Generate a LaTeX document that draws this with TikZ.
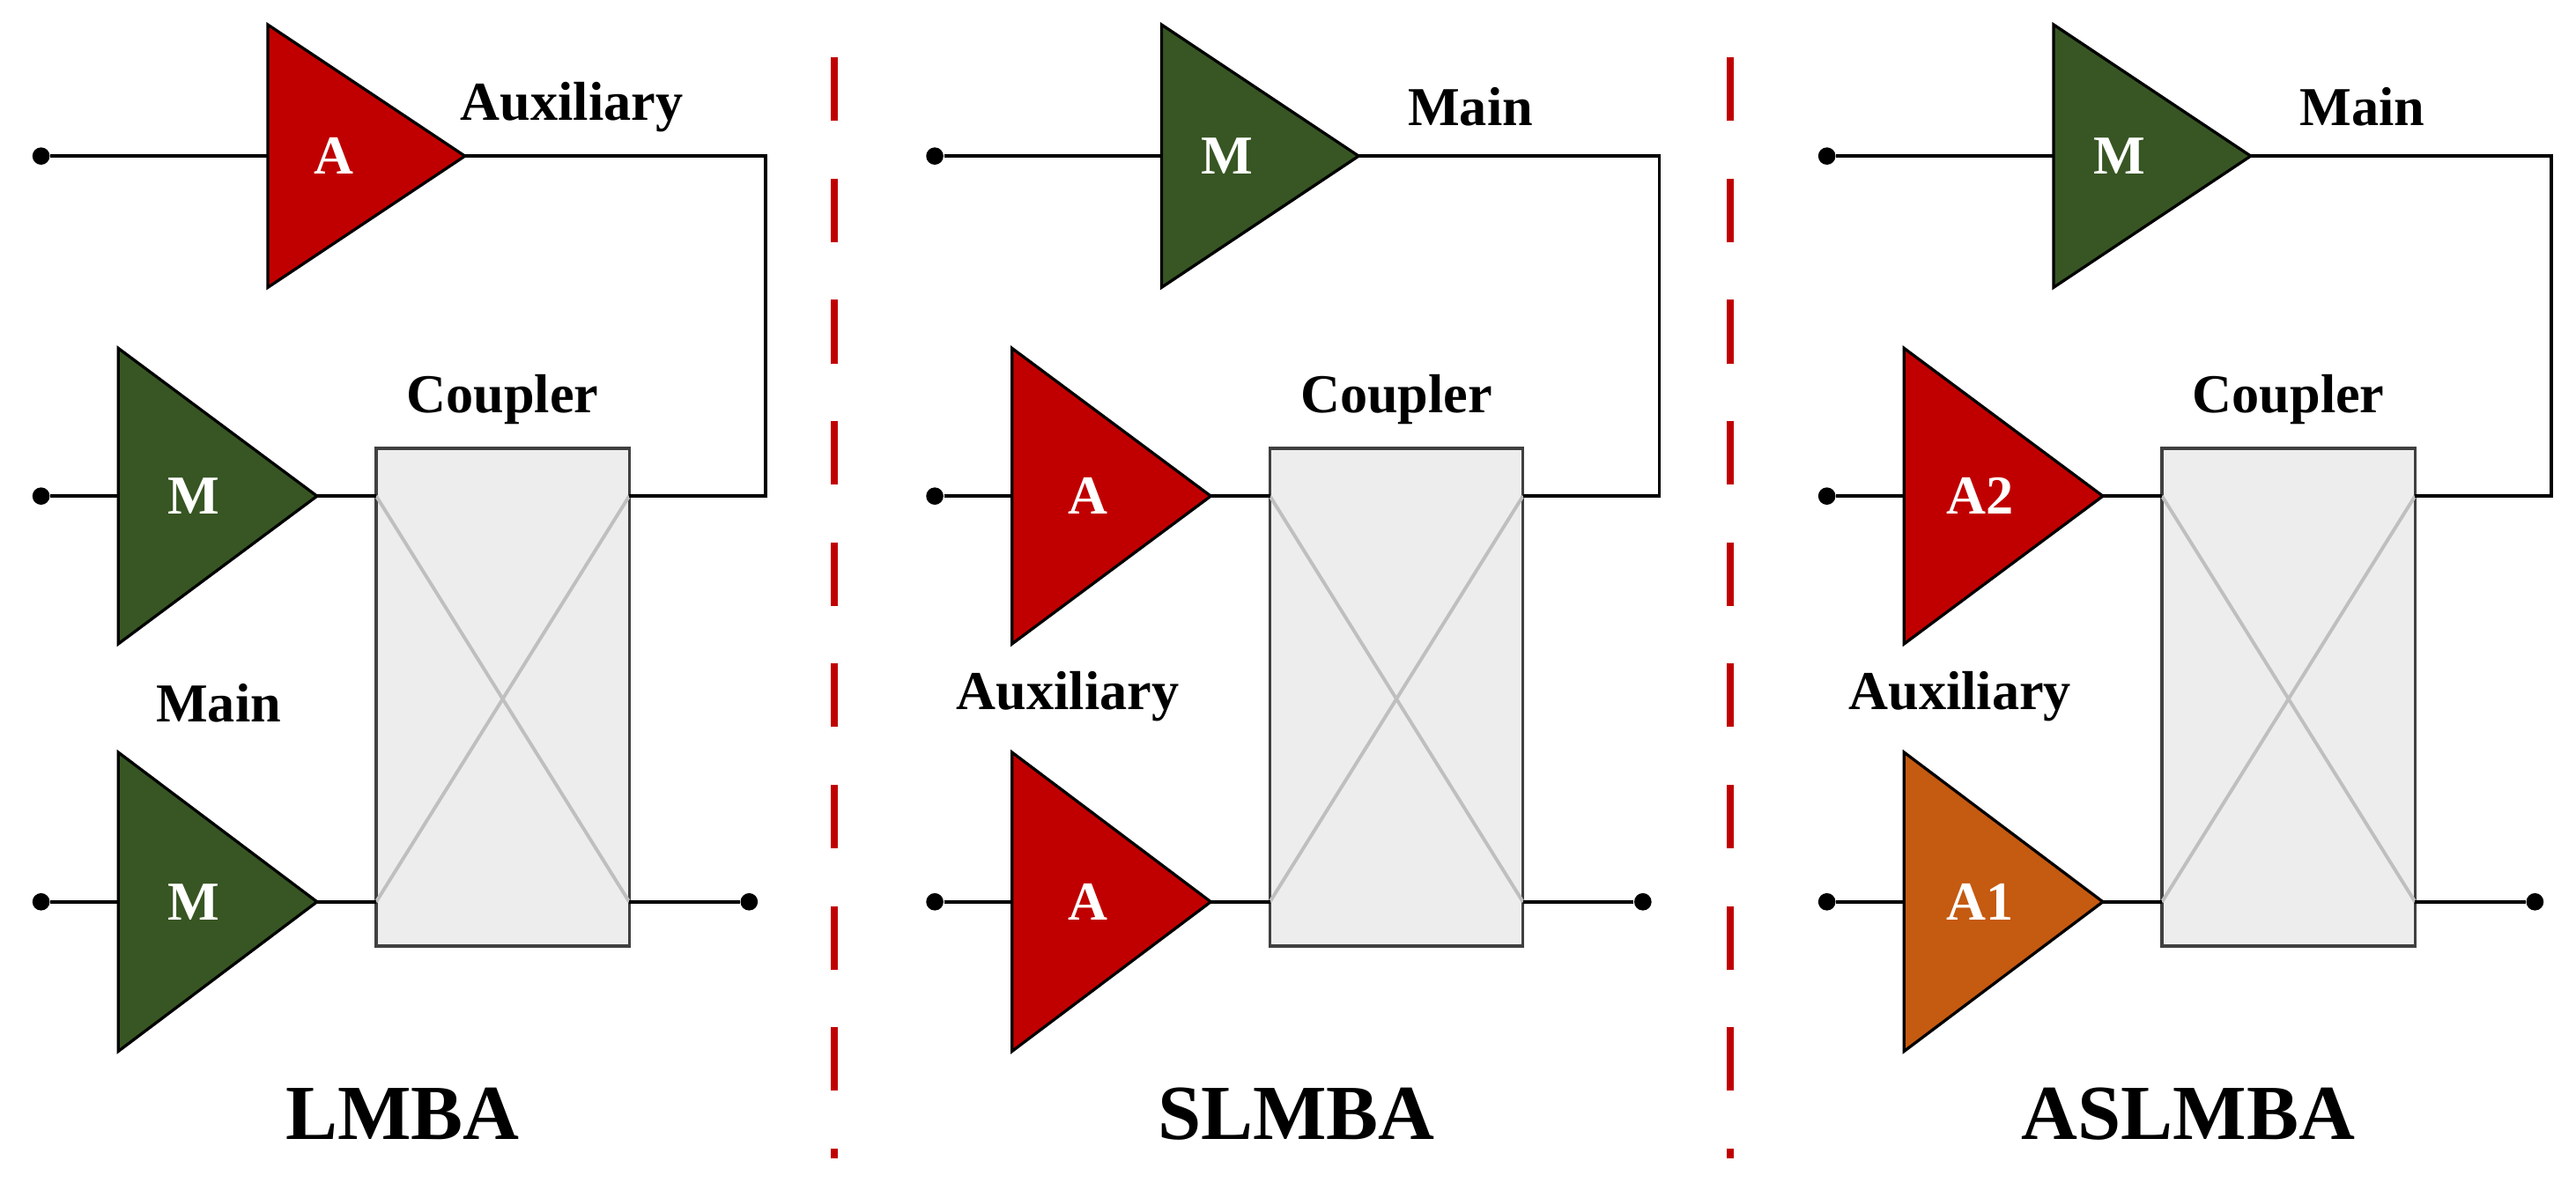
\documentclass[tikz,border=0pt]{standalone}
\usepackage{fontspec}
\setmainfont{Liberation Serif}
\begin{document}
\definecolor{gr}{HTML}{375623}
\definecolor{rd}{HTML}{C00000}
\definecolor{og}{HTML}{C55A11}
\begin{tikzpicture}[x=0.02cm,y=-0.02cm,
 amp/.style={draw=black,line width=1pt},
 wire/.style={line width=1.2pt},
 dot/.style={circle,fill=black,inner sep=0pt,minimum size=6pt},
 lbl/.style={font=\bfseries\fontsize{19}{22}\selectfont},
 albl/.style={font=\bfseries\fontsize{19}{22}\selectfont,text=white},
 big/.style={font=\bfseries\fontsize{27}{30}\selectfont}]
\useasboundingbox (0,0) rectangle (1568,720);
\foreach \o/\n/\ta/\tc/\ma/\mc/\ba/\bc/\title/\tl/\ml/\mx/\my/\tx in {
 0/a/A/rd/M/gr/M/gr/LMBA/Auxiliary/Main/133/428/348,
 544/b/M/gr/A/rd/A/rd/SLMBA/Main/Auxiliary/106/424/351,
 1087/c/M/gr/A2/rd/A1/og/ASLMBA/Main/Auxiliary/106/424/351}{
 \begin{scope}[xshift=\o*0.02cm]
 % top amp
 \filldraw[amp,fill=\tc] (163,15) -- (283,95) -- (163,175) -- cycle;
 \node[albl] (t\n) at (203,95) {\ta};
 \node[dot] (dt\n) at (25,95) {};
 \coordinate (ti\n) at (163,95);
 \coordinate (to\n) at (283,95);
 % middle amp
 \filldraw[amp,fill=\mc] (72,212) -- (193,302) -- (72,392) -- cycle;
 \node[albl] (m\n) at (118,302) {\ma};
 \node[dot] (dm\n) at (25,302) {};
 % bottom amp
 \filldraw[amp,fill=\bc] (72,458) -- (193,549) -- (72,640) -- cycle;
 \node[albl] (b\n) at (118,549) {\ba};
 \node[dot] (db\n) at (25,549) {};
 % coupler
 \node[draw=black!75,fill=black!7,line width=1pt,minimum width=154*0.02cm,minimum height=303*0.02cm,inner sep=0pt] (cp\n) at (306,424.5) {};
 \draw[black!25,line width=1.2pt] (229,302) -- (383,549) (229,549) -- (383,302);
 \node[lbl] (cl\n) at (306,243) {Coupler};
 \node[lbl] (tl\n) at (\tx,65) {\tl};
 \node[lbl] (ml\n) at (\mx,\my) {\ml};
 \node[dot] (do\n) at (456,549) {};
 \node[big] (ti2\n) at (245,678) {\title};
 \draw[wire] (dt\n) -- (ti\n);
 \draw[wire] (to\n) -- (466,95) -- (466,302) -- (383,302);
 \draw[wire] (dm\n) -- (72,302);
 \draw[wire] (193,302) -- (229,302);
 \draw[wire] (db\n) -- (72,549);
 \draw[wire] (193,549) -- (229,549);
 \draw[wire] (383,549) -- (do\n);
 \end{scope}}
\draw[rd,line width=2.5pt,dash pattern=on 22pt off 20pt] (508,35) -- (508,705);
\draw[rd,line width=2.5pt,dash pattern=on 22pt off 20pt] (1053,35) -- (1053,705);
\end{tikzpicture}
\end{document}
